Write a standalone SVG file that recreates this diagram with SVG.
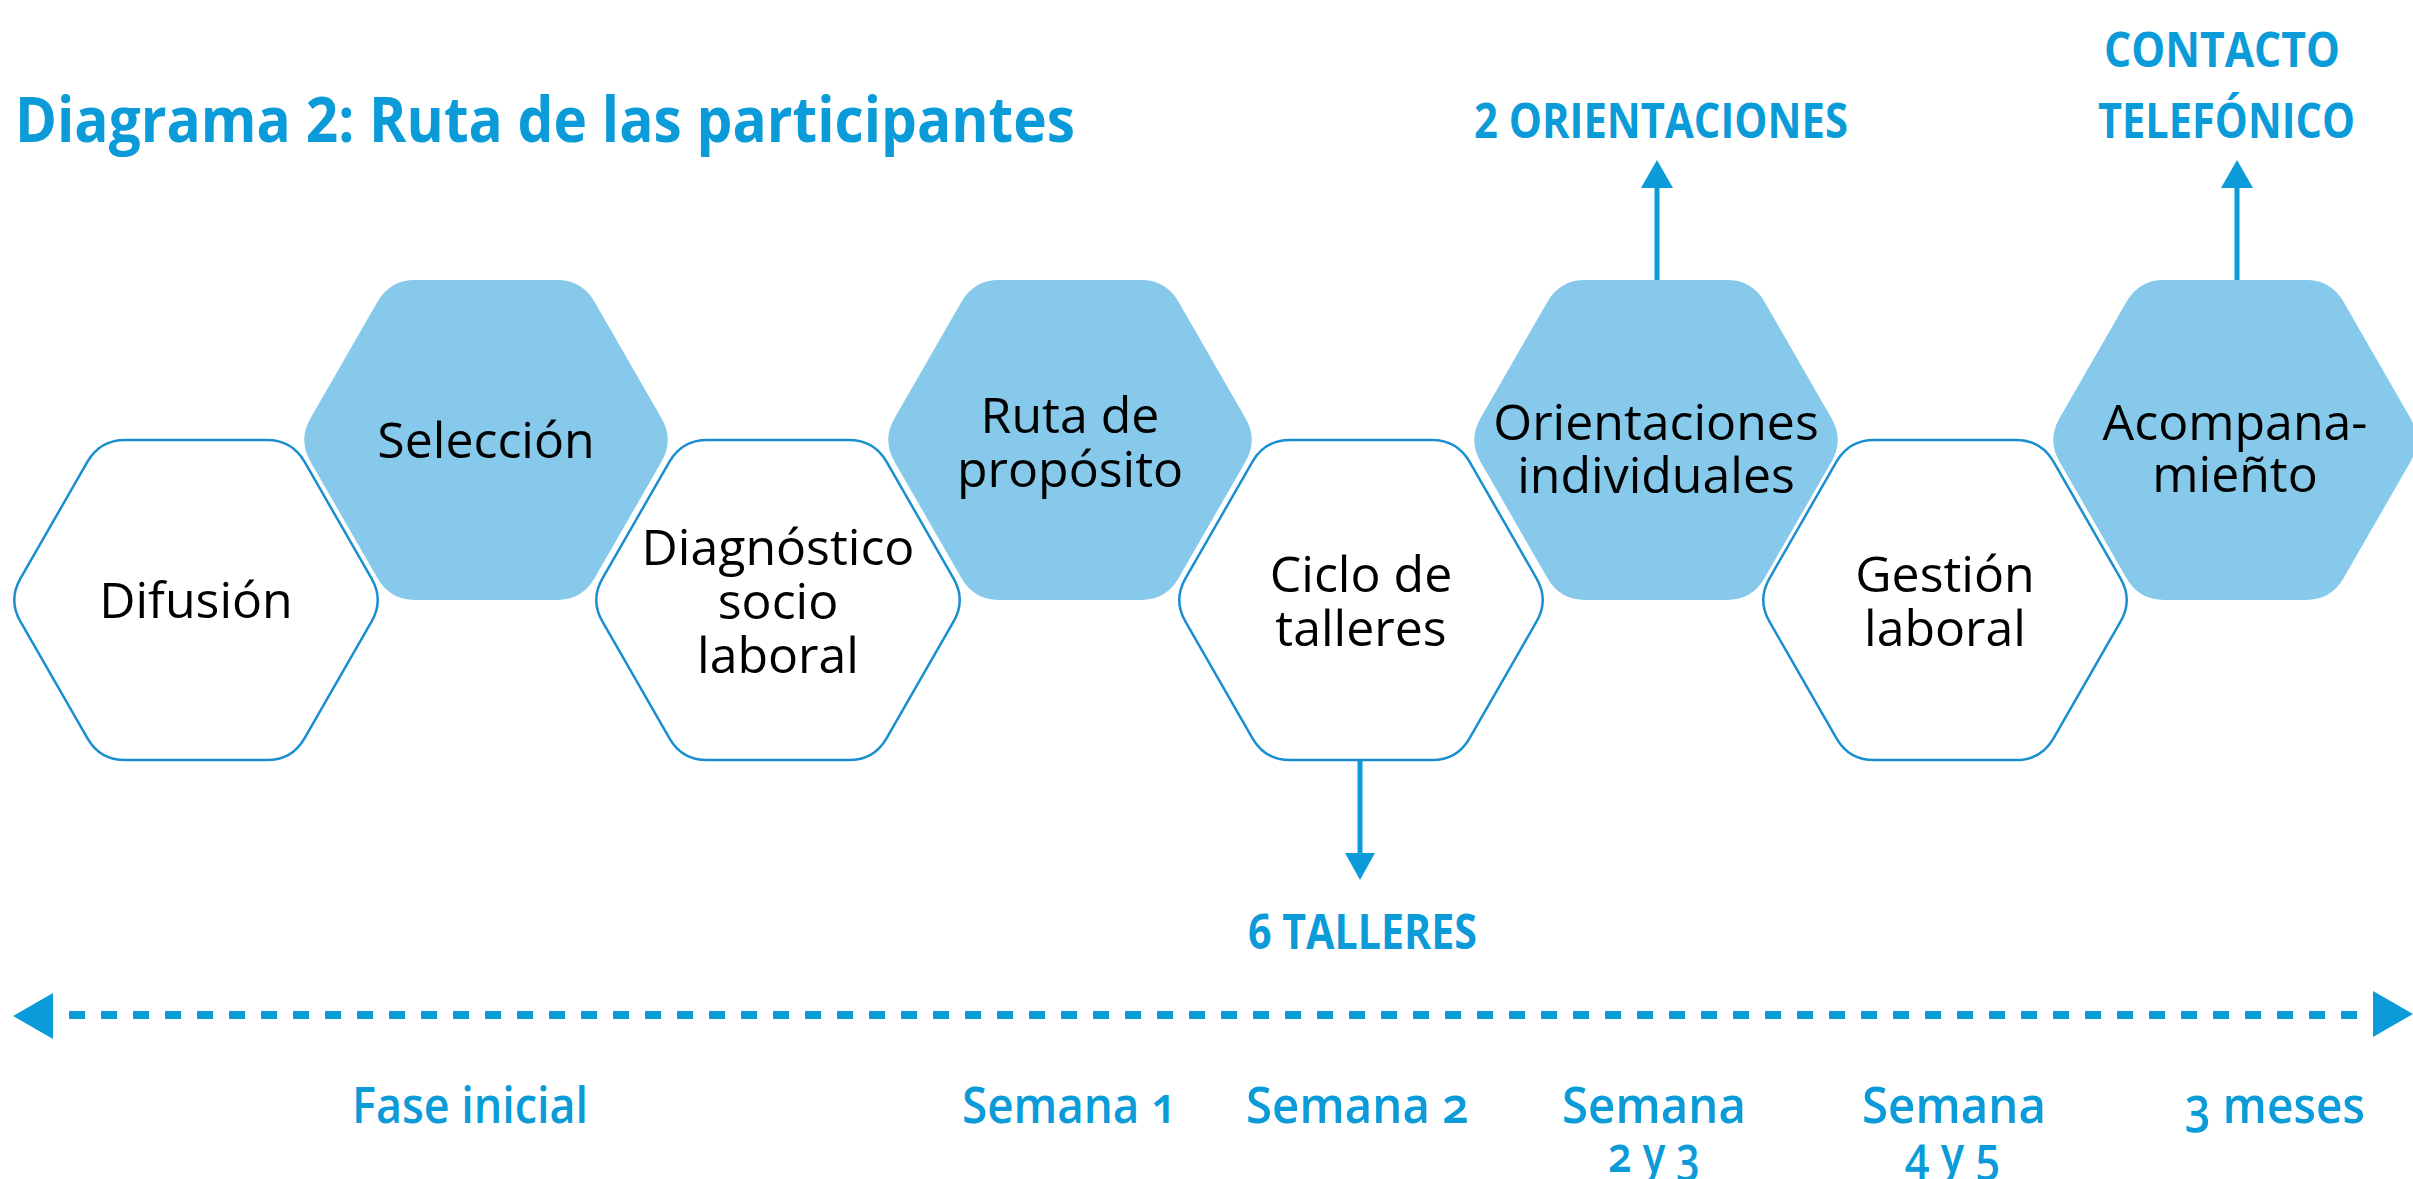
<svg xmlns="http://www.w3.org/2000/svg" xmlns:xlink="http://www.w3.org/1999/xlink" width="2413" height="1179" viewBox="0 0 2413 1179">
<style>
.bg{fill:#ffffff}
.hw{fill:#ffffff;stroke:#1a8fd0;stroke-width:2.5}
.hb{fill:#86c9eb;stroke:none}
.nt{font-family:"Open Sans","Noto Sans","Liberation Sans",sans-serif;font-size:50px;fill:#000000;text-anchor:middle}
.title{font-family:"Open Sans","Noto Sans","Liberation Sans",sans-serif;font-weight:700;font-size:62px;fill:#0a9bd8}
.lab{font-family:"Open Sans","Noto Sans","Liberation Sans",sans-serif;font-weight:700;font-size:49px;fill:#0a9bd8}
.tl{font-family:"Open Sans","Noto Sans","Liberation Sans",sans-serif;font-weight:600;font-size:50px;fill:#0a9bd8;font-variant-numeric:oldstyle-nums}
.ln{stroke:#0a9bd8;stroke-width:5;fill:none}
.ah{fill:#0a9bd8}
.dash{stroke:#0a9bd8;stroke-width:8;fill:none;stroke-dasharray:16 16}
</style>
<defs>
<path id="hex" d="M -175.5,-21.7 L -108.5,-138.3 Q -96,-160 -71,-160 L 71,-160 Q 96,-160 108.5,-138.3 L 175.5,-21.7 Q 188,0 175.5,21.7 L 108.5,138.3 Q 96,160 71,160 L -71,160 Q -96,160 -108.5,138.3 L -175.5,21.7 Q -188,0 -175.5,-21.7 Z"/>
</defs>
<rect class="bg" x="0" y="0" width="2413" height="1179"/>

<text class="title" x="15" y="142" textLength="1060" lengthAdjust="spacingAndGlyphs">Diagrama 2: Ruta de las participantes</text>

<g id="connectors">
  <line class="ln" x1="1657" y1="280" x2="1657" y2="185"/>
  <polygon class="ah" points="1657,160 1641,188 1673,188"/>
  <line class="ln" x1="2237" y1="280" x2="2237" y2="185"/>
  <polygon class="ah" points="2237,160 2221,188 2253,188"/>
  <line class="ln" x1="1360" y1="760" x2="1360" y2="855"/>
  <polygon class="ah" points="1360,880 1345,853 1375,853"/>
  <line class="dash" x1="69" y1="1015" x2="2357" y2="1015"/>
  <polygon class="ah" points="13,1016 53,993 53,1039"/>
  <polygon class="ah" points="2413,1014 2373,991 2373,1037"/>
</g>

<g id="node-difusion">
  <use href="#hex" class="hw" transform="translate(196,600)"/>
  <text class="nt" x="196" y="618">Difusión</text>
</g>
<g id="node-seleccion">
  <use href="#hex" class="hb" transform="translate(486,440)"/>
  <text class="nt" x="486" y="458">Selección</text>
</g>
<g id="node-diagnostico">
  <use href="#hex" class="hw" transform="translate(778,600)"/>
  <text class="nt" x="778" y="565">Diagnóstico</text>
  <text class="nt" x="778" y="619">socio</text>
  <text class="nt" x="778" y="673">laboral</text>
</g>
<g id="node-ruta">
  <use href="#hex" class="hb" transform="translate(1070,440)"/>
  <text class="nt" x="1070" y="433">Ruta de</text>
  <text class="nt" x="1070" y="487">propósito</text>
</g>
<g id="node-ciclo">
  <use href="#hex" class="hw" transform="translate(1361,600)"/>
  <text class="nt" x="1361" y="592">Ciclo de</text>
  <text class="nt" x="1361" y="646">talleres</text>
</g>
<g id="node-orientaciones">
  <use href="#hex" class="hb" transform="translate(1656,440)"/>
  <text class="nt" x="1656" y="440">Orientaciones</text>
  <text class="nt" x="1656" y="493">individuales</text>
</g>
<g id="node-gestion">
  <use href="#hex" class="hw" transform="translate(1945,600)"/>
  <text class="nt" x="1945" y="592">Gestión</text>
  <text class="nt" x="1945" y="646">laboral</text>
</g>
<g id="node-acompanamiento">
  <use href="#hex" class="hb" transform="translate(2235,440)"/>
  <text class="nt" x="2235" y="440">Acompana-</text>
  <text class="nt" x="2235" y="492">mieñto</text>
</g>

<g id="labels">
  <text class="lab" x="1474" y="138" textLength="374" lengthAdjust="spacingAndGlyphs">2 ORIENTACIONES</text>
  <text class="lab" x="2104" y="67" textLength="236" lengthAdjust="spacingAndGlyphs">CONTACTO</text>
  <text class="lab" x="2098" y="138" textLength="257" lengthAdjust="spacingAndGlyphs">TELEFÓNICO</text>
  <text class="lab" x="1248" y="949" textLength="229" lengthAdjust="spacingAndGlyphs">6 TALLERES</text>
</g>

<g id="timeline-labels">
  <text class="tl" x="352" y="1123" textLength="236" lengthAdjust="spacingAndGlyphs">Fase inicial</text>
  <text class="tl" x="962" y="1123" textLength="215" lengthAdjust="spacingAndGlyphs">Semana 1</text>
  <text class="tl" x="1246" y="1123" textLength="223" lengthAdjust="spacingAndGlyphs">Semana 2</text>
  <text class="tl" x="1562" y="1123" textLength="184" lengthAdjust="spacingAndGlyphs">Semana</text>
  <text class="tl" x="1608" y="1172" textLength="92" lengthAdjust="spacingAndGlyphs">2 y 3</text>
  <text class="tl" x="1862" y="1123" textLength="184" lengthAdjust="spacingAndGlyphs">Semana</text>
  <text class="tl" x="1905" y="1172" textLength="95" lengthAdjust="spacingAndGlyphs">4 y 5</text>
  <text class="tl" x="2185" y="1123" textLength="180" lengthAdjust="spacingAndGlyphs">3 meses</text>
</g>
</svg>
